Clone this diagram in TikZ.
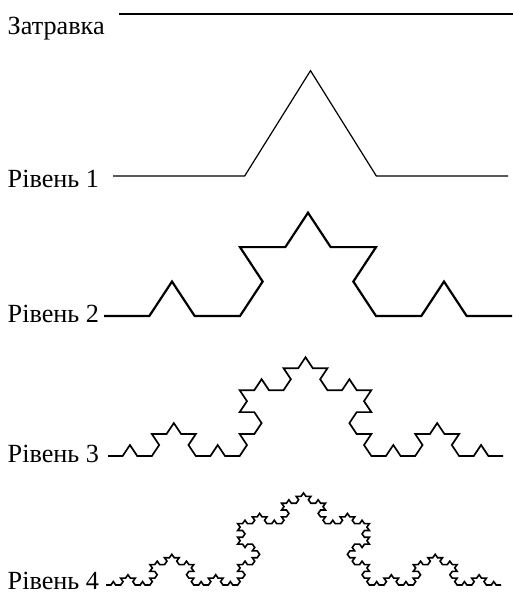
\documentclass[tikz,border=0pt]{standalone}
\usepackage{fontspec}
\setmainfont{Liberation Serif}
\usetikzlibrary{lindenmayersystems}
\pgfdeclarelindenmayersystem{Koch}{\rule{F -> F+F--F+F}}
\begin{document}
\begin{tikzpicture}[x=1pt,y=1pt,
  lbl/.style={anchor=base west,inner sep=0pt,font=\fontsize{26.2}{30}\selectfont},
  curve/.style={line join=miter,line cap=butt}]
\useasboundingbox (0,0) rectangle (513,597);
% labels
\node[lbl] (t0) at (7.5,562) {Затравка};
\node[lbl] (t1) at (7.5,409.3) {Рівень 1};
\node[lbl] (t2) at (7.5,274.3) {Рівень 2};
\node[lbl] (t3) at (7.5,134.3) {Рівень 3};
\node[lbl] (t4) at (7.5,8) {Рівень 4};
% seed
\coordinate (s0) at (119,583);
\coordinate (s1) at (513,583);
\draw[line width=1.6pt] (s0) -- (s1);
% level 1
\begin{scope}[shift={(113,421)},yscale=0.924]
\draw[curve,line width=1.2pt,l-system={Koch,axiom=F,order=1,step=131.667pt,angle=60}] (0,0) lindenmayer system;
\end{scope}
% level 2
\begin{scope}[shift={(104,281)},yscale=0.877]
\draw[curve,line width=2.2pt,l-system={Koch,axiom=F,order=2,step=45.333pt,angle=60}] (0,0) lindenmayer system;
\end{scope}
% level 3
\begin{scope}[shift={(108,141)},yscale=0.866]
\draw[curve,line width=1.7pt,l-system={Koch,axiom=F,order=3,step=14.63pt,angle=60}] (0,0) lindenmayer system;
\end{scope}
% level 4
\begin{scope}[shift={(106,12)},yscale=0.807]
\draw[curve,line width=1.6pt,l-system={Koch,axiom=F,order=4,step=4.877pt,angle=60}] (0,0) lindenmayer system;
\end{scope}
\end{tikzpicture}
\end{document}
